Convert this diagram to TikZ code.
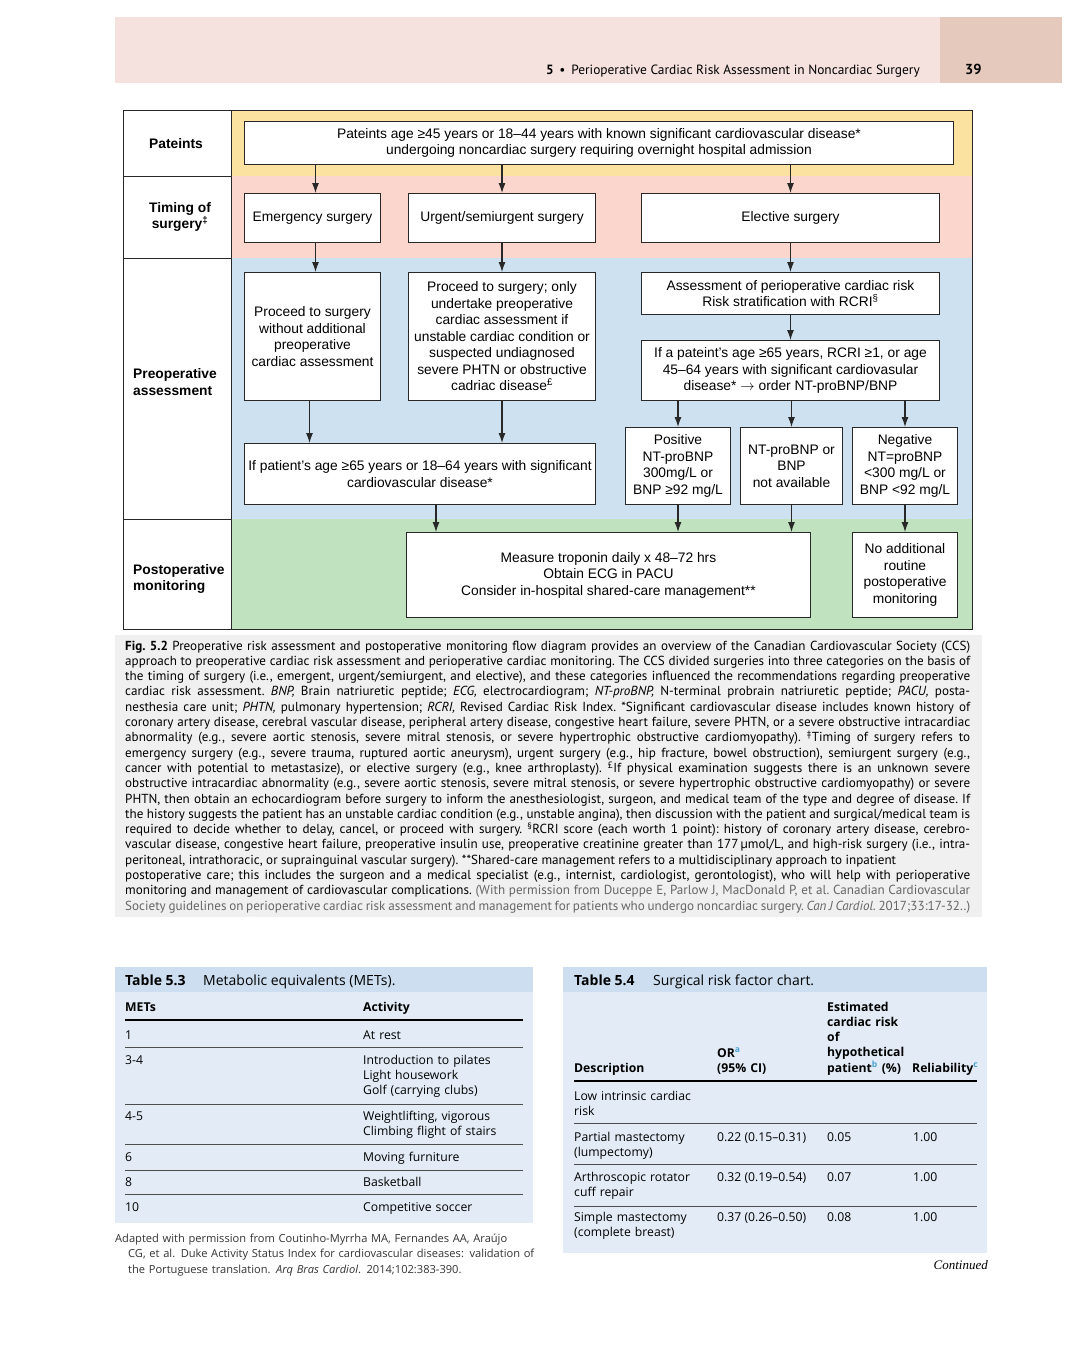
\documentclass[tikz,border=0pt]{standalone}
\usepackage{fontspec}
\setmainfont{Liberation Sans}
\newfontfamily\capfont{PT Sans}
\newfontfamily\tabfont{Open Sans}
\newfontfamily\contfont{Liberation Serif}
\usepackage{xcolor}
\definecolor{headpink}{RGB}{245,226,222}
\definecolor{headdark}{RGB}{229,201,189}
\definecolor{bandyellow}{RGB}{252,226,160}
\definecolor{bandpink}{RGB}{250,214,204}
\definecolor{bandblue}{RGB}{206,225,240}
\definecolor{bandgreen}{RGB}{192,226,190}
\definecolor{capgray}{RGB}{240,240,240}
\definecolor{tabband}{RGB}{205,222,240}
\definecolor{tabbody}{RGB}{227,236,246}
\definecolor{supblue}{RGB}{70,160,210}
\definecolor{framegray}{RGB}{40,40,40}
\usetikzlibrary{arrows.meta}
\usetikzlibrary{positioning}

\tikzset{
	flowbox/.style={draw=framegray, fill=white, line width=1pt, anchor=north west, align=center, inner sep=2pt, font=\fontsize{13.8}{16.5}\selectfont},
	rowlabel/.style={inner sep=0pt, font=\fontsize{13.8}{16.5}\selectfont\bfseries},
	flowarrow/.style={-{Latex[length=10pt,width=7pt]}, line width=1.1pt, draw=framegray},
	tabtext/.style={anchor=base west, inner sep=0pt, align=left, font=\tabfont\fontsize{12.2}{15.3}\selectfont},
	tabheader/.style={tabtext, font=\tabfont\fontsize{12.2}{15.3}\selectfont\bfseries},
	tabrule/.style={line width=0.9pt, draw=black!70},
	tabthick/.style={line width=1.4pt, draw=black},
}

\begin{document}
\begin{tikzpicture}[x=1pt, y=-1pt]
\useasboundingbox (0,0) rectangle (1080,1371);
\fill[white] (0,0) rectangle (1080,1371);

% running head
\fill[headpink] (115,17) rectangle (940,83);
\fill[headdark] (940,17) rectangle (1062,83);
\node[anchor=base east, inner sep=0pt, font=\capfont\fontsize{13.4}{15}\selectfont] (runtitle) at (920,74) {\textbf{5} \,•\, Perioperative Cardiac Risk Assessment in Noncardiac Surgery};
\node[anchor=base west, inner sep=0pt, font=\capfont\fontsize{14.5}{16}\selectfont\bfseries] (pageno) at (965,74) {39};

% flow diagram
\fill[bandyellow] (231,110) rectangle (972,176);
\fill[bandpink] (231,176) rectangle (972,258);
\fill[bandblue] (231,258) rectangle (972,519);
\fill[bandgreen] (231,519) rectangle (972,629);
\draw[line width=1pt, framegray] (123,110) rectangle (972,629);
\draw[line width=1pt, framegray] (231,110) -- (231,629);
\foreach \y in {176,258,519}
	\draw[line width=1pt, framegray] (123,\y) -- (231,\y);

\node[rowlabel, align=center] (lblpatients) at (176,144) {Pateints};
\node[rowlabel, align=center] (lbltiming) at (180,217) {Timing of\\surgery\textsuperscript{‡}};
\node[rowlabel, align=left, anchor=west] (lblpreop) at (133,382) {Preoperative\\assessment};
\node[rowlabel, align=left, anchor=west] (lblpostop) at (133,579) {Postoperative\\monitoring};

\node[flowbox, minimum width=709pt, minimum height=43pt] (patients) at (244,121) {Pateints age ≥45 years or 18–44 years with known significant cardiovascular disease*\\undergoing noncardiac surgery requiring overnight hospital admission};
\node[flowbox, minimum width=136pt, minimum height=49pt] (emergency) at (244,193) {Emergency surgery};
\node[flowbox, minimum width=187pt, minimum height=49pt] (urgent) at (408,193) {Urgent/semiurgent surgery};
\node[flowbox, minimum width=298pt, minimum height=49pt] (elective) at (641,193) {Elective surgery};
\node[flowbox, minimum width=136pt, minimum height=128pt] (noassess) at (244,272) {Proceed to surgery\\without additional\\preoperative\\cardiac assessment};
\node[flowbox, minimum width=187pt, minimum height=128pt] (onlyif) at (408,272) {Proceed to surgery; only\\undertake preoperative\\cardiac assessment if\\unstable cardiac condition or\\suspected undiagnosed\\severe PHTN or obstructive\\cadriac disease\textsuperscript{£}};
\node[flowbox, minimum width=298pt, minimum height=42pt] (rcri) at (641,272) {Assessment of perioperative cardiac risk\\Risk stratification with RCRI\textsuperscript{§}};
\node[flowbox, minimum width=298pt, minimum height=60pt] (order) at (641,340) {If a pateint’s age ≥65 years, RCRI ≥1, or age\\45–64 years with significant cardiovasular\\disease* $\rightarrow$ order NT-proBNP/BNP};
\node[flowbox, minimum width=351pt, minimum height=61pt] (agecheck) at (244,443) {If patient’s age ≥65 years or 18–64 years with significant\\cardiovascular disease*};
\node[flowbox, minimum width=105pt, minimum height=77pt] (positive) at (625,427) {Positive\\NT-proBNP\\300mg/L or\\BNP ≥92 mg/L};
\node[flowbox, minimum width=102pt, minimum height=77pt] (notavail) at (740,427) {NT-proBNP or\\BNP\\not available};
\node[flowbox, minimum width=105pt, minimum height=77pt] (negative) at (852,427) {Negative\\NT=proBNP\\<300 mg/L or\\BNP <92 mg/L};
\node[flowbox, minimum width=404pt, minimum height=85pt] (troponin) at (406,532) {Measure troponin daily x 48–72 hrs\\Obtain ECG in PACU\\Consider in-hospital shared-care management**};
\node[flowbox, minimum width=105pt, minimum height=85pt] (noroutine) at (852,532) {No additional\\routine\\postoperative\\monitoring};

\draw[flowarrow] ([xshift=3pt]patients.south -| emergency.north) -- ([xshift=3pt]emergency.north);
\draw[flowarrow] (patients.south -| urgent.north) -- (urgent.north);
\draw[flowarrow] (patients.south -| elective.north) -- (elective.north);
\draw[flowarrow] ([xshift=3pt]emergency.south) -- ([xshift=3pt]noassess.north);
\draw[flowarrow] (urgent.south) -- (onlyif.north);
\draw[flowarrow] (elective.south) -- (rcri.north);
\draw[flowarrow] (rcri.south) -- (order.north);
\draw[flowarrow] (order.south -| positive.north) -- (positive.north);
\draw[flowarrow] (order.south -| notavail.north) -- (notavail.north);
\draw[flowarrow] (order.south -| negative.north) -- (negative.north);
\draw[flowarrow] ([xshift=-3pt]noassess.south) -- ([xshift=-3pt]noassess.south |- agecheck.north);
\draw[flowarrow] (onlyif.south) -- (onlyif.south |- agecheck.north);
\draw[flowarrow] ([xshift=16pt]agecheck.south) -- ([xshift=16pt]agecheck.south |- troponin.north);
\draw[flowarrow] (positive.south) -- (positive.south |- troponin.north);
\draw[flowarrow] (notavail.south) -- (notavail.south |- troponin.north);
\draw[flowarrow] (negative.south) -- (noroutine.north);

% legend
\fill[capgray] (115,635) rectangle (982,917);
\node[anchor=base west, inner sep=0pt, text width=845pt, align=justify, font=\capfont\fontsize{13.1}{15.3}\selectfont] (legend) at (125,650) {\hyphenpenalty=10000\tolerance=10000\frenchspacing
\textbf{Fig. 5.2} Preoperative risk assessment and postoperative monitoring flow diagram provides an overview of the Canadian Cardiovascular Society (CCS)\linebreak
approach to preoperative cardiac risk assessment and perioperative cardiac monitoring. The CCS divided surgeries into three categories on the basis of\linebreak
the timing of surgery (i.e., emergent, urgent/semiurgent, and elective), and these categories influenced the recommendations regarding preoperative\linebreak
cardiac risk assessment. \emph{BNP,} Brain natriuretic peptide; \emph{ECG,} electrocardiogram; \emph{NT-proBNP,} N-terminal probrain natriuretic peptide; \emph{PACU,} posta-\linebreak
nesthesia care unit; \emph{PHTN,} pulmonary hypertension; \emph{RCRI,} Revised Cardiac Risk Index. *Significant cardiovascular disease includes known history of\linebreak
coronary artery disease, cerebral vascular disease, peripheral artery disease, congestive heart failure, severe PHTN, or a severe obstructive intracardiac\linebreak
abnormality (e.g., severe aortic stenosis, severe mitral stenosis, or severe hypertrophic obstructive cardiomyopathy). \textsuperscript{‡}Timing of surgery refers to\linebreak
emergency surgery (e.g., severe trauma, ruptured aortic aneurysm), urgent surgery (e.g., hip fracture, bowel obstruction), semiurgent surgery (e.g.,\linebreak
cancer with potential to metastasize), or elective surgery (e.g., knee arthroplasty). \textsuperscript{£}If physical examination suggests there is an unknown severe\linebreak
obstructive intracardiac abnormality (e.g., severe aortic stenosis, severe mitral stenosis, or severe hypertrophic obstructive cardiomyopathy) or severe\linebreak
PHTN, then obtain an echocardiogram before surgery to inform the anesthesiologist, surgeon, and medical team of the type and degree of disease. If\linebreak
the history suggests the patient has an unstable cardiac condition (e.g., unstable angina), then discussion with the patient and surgical/medical team is\linebreak
required to decide whether to delay, cancel, or proceed with surgery. \textsuperscript{§}RCRI score (each worth 1 point): history of coronary artery disease, cerebro-\linebreak
vascular disease, congestive heart failure, preoperative insulin use, preoperative creatinine greater than 177\,µmol/L, and high-risk surgery (i.e., intra-\linebreak
peritoneal, intrathoracic, or suprainguinal vascular surgery). **Shared-care management refers to a multidisciplinary approach to inpatient\newline
postoperative care; this includes the surgeon and a medical specialist (e.g., internist, cardiologist, gerontologist), who will help with perioperative\linebreak
monitoring and management of cardiovascular complications. {\color{black!60}(With permission from Duceppe E, Parlow J, MacDonald P, et al. Canadian Cardiovascular\linebreak
Society guidelines on perioperative cardiac risk assessment and management for patients who undergo noncardiac surgery. \emph{Can J Cardiol.} 2017;33:17-32..)}};

% table 5.3
\fill[tabbody] (115,967) rectangle (533,1223);
\fill[tabband] (115,967) rectangle (533,992);
\node[tabtext, font=\tabfont\fontsize{14}{16}\selectfont\bfseries] (t53label) at (125,985) {Table 5.3};
\node[tabtext, font=\tabfont\fontsize{14}{16}\selectfont] (t53title) at (203,985) {Metabolic equivalents (METs).};
\node[tabheader] (t53mets) at (125,1011) {METs};
\node[tabheader] (t53activity) at (363,1011) {Activity};
\draw[tabthick] (125,1020) -- (523,1020);
\foreach \y/\mets/\act in {1039/1/At rest, 1064/3-4/{Introduction to pilates\\Light housework\\Golf (carrying clubs)}, 1120/4-5/{Weightlifting, vigorous\\Climbing flight of stairs}, 1161/6/Moving furniture, 1186/8/Basketball, 1211/10/Competitive soccer}{
	\node[tabtext] (m\y) at (125,\y) {\mets};
	\node[tabtext, text width=160pt] (a\y) at (363,\y) {\act};
}
\foreach \y in {1047,1104,1144,1170,1194}
	\draw[tabrule] (125,\y) -- (523,\y);
\node[tabtext, text width=440pt, text=black!80, font=\tabfont\fontsize{11.1}{15.5}\selectfont] (t53source) at (115,1242) {Adapted with permission from Coutinho-Myrrha MA, Fernandes AA, Araújo\\\hspace*{13pt}CG, et al. Duke Activity Status Index for cardiovascular diseases: validation of\\\hspace*{13pt}the Portuguese translation. \emph{Arq Bras Cardiol}. 2014;102:383-390.};

% table 5.4
\fill[tabbody] (563,967) rectangle (987,1253);
\fill[tabband] (563,967) rectangle (987,992);
\node[tabtext, font=\tabfont\fontsize{14}{16}\selectfont\bfseries] (t54label) at (574,985) {Table 5.4};
\node[tabtext, font=\tabfont\fontsize{14}{16}\selectfont] (t54title) at (653,985) {Surgical risk factor chart.};
\node[tabheader] (t54desc) at (574,1072) {Description};
\node[tabheader, text width=90pt] (t54or) at (717,1057) {OR\textsuperscript{\color{supblue}a}\\(95\% CI)};
\node[tabheader, text width=90pt] (t54risk) at (827,1011) {Estimated\\cardiac risk\\of\\hypothetical\\patient\textsuperscript{\color{supblue}b} (\%)};
\node[tabheader] (t54rel) at (912,1072) {Reliability\textsuperscript{\color{supblue}c}};
\draw[tabthick] (574,1081) -- (977,1081);
\foreach \y/\desc/\ratio/\risk/\rel in {1100/{Low intrinsic cardiac\\risk}/{}/{}/{}, 1141/{Partial mastectomy\\(lumpectomy)}/0.22 (0.15–0.31)/0.05/1.00, 1181/{Arthroscopic rotator\\cuff repair}/0.32 (0.19–0.54)/0.07/1.00, 1221/{Simple mastectomy\\(complete breast)}/0.37 (0.26–0.50)/0.08/1.00}{
	\node[tabtext, text width=140pt] (d\y) at (574,\y) {\desc};
	\node[tabtext] (o\y) at (717,\y) {\ratio};
	\node[tabtext] (r\y) at (827,\y) {\risk};
	\node[tabtext] (l\y) at (913,\y) {\rel};
}
\foreach \y in {1123,1164,1206}
	\draw[tabrule] (574,\y) -- (977,\y);
\node[anchor=base east, inner sep=0pt, font=\contfont\fontsize{13}{15}\selectfont\itshape] (continued) at (988,1269) {Continued};
\end{tikzpicture}
\end{document}
